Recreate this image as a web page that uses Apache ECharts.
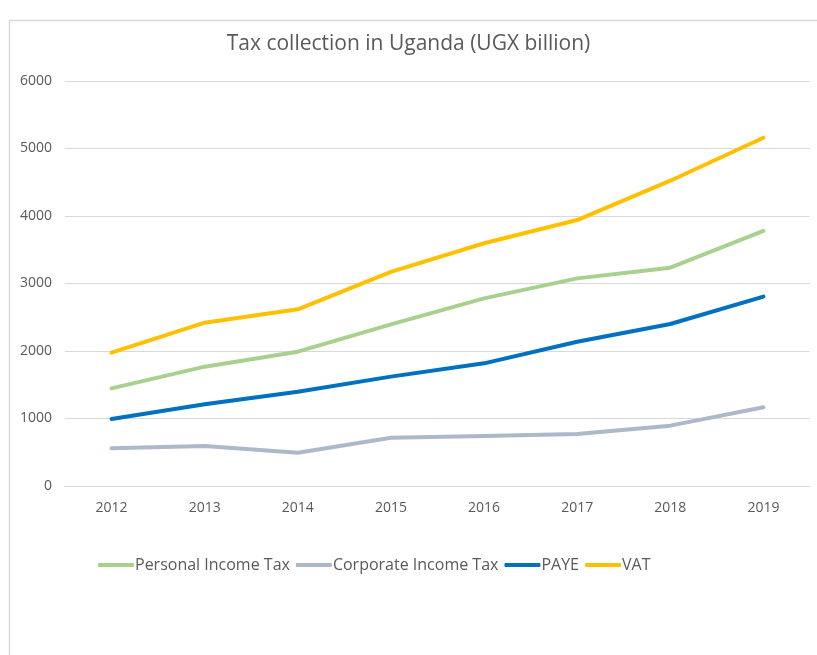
<!DOCTYPE html>
<html>
<head>
<meta charset="utf-8">
<script src="https://cdn.jsdelivr.net/npm/echarts@6/dist/echarts.min.js"></script>
<style>html,body{margin:0;padding:0;background:#fff;}#c{width:817px;height:655px;}</style>
</head>
<body>
<div id="c"></div>
<script>
const years = ['2012','2013','2014','2015','2016','2017','2018','2019'];
const personalIncomeTax = [1447, 1768, 1990, 2395, 2780, 3076, 3234, 3778];
const corporateIncomeTax = [558, 593, 494, 716, 741, 770, 894, 1166];
const paye = [993, 1210, 1397, 1620, 1817, 2138, 2400, 2805];
const vat = [1975, 2420, 2618, 3172, 3596, 3940, 4523, 5160];
const seriesNames = ['Personal Income Tax', 'Corporate Income Tax', 'PAYE', 'VAT'];
const seriesColors = ['#A9D18E', '#ADB9CA', '#0070C0', '#FFC000'];
const seriesData = [personalIncomeTax, corporateIncomeTax, paye, vat];

const font = 'Open Sans';
const chart = echarts.init(document.getElementById('c'), null, {renderer: 'canvas'});
chart.setOption({
  animation: false,
  backgroundColor: '#fff',
  graphic: [{
    type: 'rect', silent: true,
    shape: {x: 9.5, y: 20.5, width: 1000, height: 1000},
    style: {fill: 'none', stroke: '#D9D9D9', lineWidth: 1.5}
  }],
  title: {
    text: 'Tax collection in Uganda (UGX billion)',
    left: 'center', top: 29,
    textStyle: {fontFamily: font, fontSize: 21, fontWeight: 'normal', color: '#595959'}
  },
  legend: {
    left: 93, top: 552,
    icon: 'roundRect',
    itemWidth: 36, itemHeight: 4, itemGap: 6,
    textStyle: {fontFamily: font, fontSize: 16, color: '#595959', padding: [0, 0, 0, -4]},
    data: seriesNames
  },
  grid: {left: 65, right: 7, top: 81, bottom: 169, containLabel: false},
  xAxis: {
    type: 'category', data: years, boundaryGap: true,
    axisLine: {show: true, lineStyle: {color: '#D9D9D9', width: 1}},
    axisTick: {show: false},
    axisLabel: {fontFamily: font, fontSize: 14, color: '#595959', margin: 15}
  },
  yAxis: {
    type: 'value', min: 0, max: 6000, interval: 1000,
    axisLine: {show: false}, axisTick: {show: false},
    splitLine: {lineStyle: {color: '#D9D9D9', width: 1}},
    axisLabel: {fontFamily: font, fontSize: 14, color: '#595959', margin: 13,
      formatter: v => String(v)}
  },
  series: seriesNames.map((n, i) => ({
    name: n, type: 'line', data: seriesData[i],
    symbol: 'none', smooth: false,
    lineStyle: {color: seriesColors[i], width: 4, cap: 'round', join: 'round'},
    itemStyle: {color: seriesColors[i]}
  }))
});
</script>
</body>
</html>
